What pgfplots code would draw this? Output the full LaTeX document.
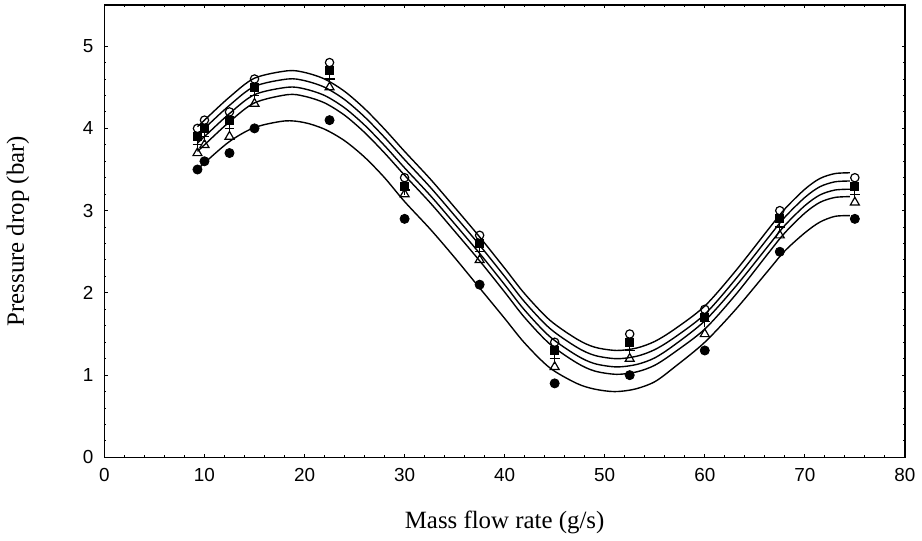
\documentclass[border=0pt]{standalone}
\usepackage{fontspec}
\setmainfont{Liberation Serif}
\newfontfamily\arial{Liberation Sans}
\usepackage{pgfplots}
\pgfplotsset{compat=1.18}

\pgfplotsset{curve/.style={no marks, smooth, black, line width=0.7pt}}

\begin{document}
\begin{tikzpicture}
\path (-52.5pt,-40pt) rectangle (408.5pt,230pt);
\begin{axis}[
 at={(0,0)}, anchor=south west,
 scale only axis, width=402.5pt, height=227.5pt,
 xmin=0, xmax=80, ymin=0, ymax=5.5,
 xtick={0,10,...,80}, ytick={0,1,...,5},
 minor x tick num=4, minor y tick num=4,
 tick align=inside, major tick length=1.6pt, minor tick length=1pt,
 axis line style={line width=0.75pt},
 every tick/.style={black, line width=0.5pt},
 ticklabel style={font=\arial\fontsize{9.5}{10}\selectfont},
 /pgf/number format/assume math mode=true,
 xticklabel style={yshift=-2pt},
 yticklabel style={xshift=-2pt},
 xlabel={Mass flow rate (g/s)}, ylabel={Pressure drop (bar)},
 label style={font=\fontsize{12.5}{14}\selectfont},
 xlabel style={at={(axis description cs:0.5,-0.1429)}, anchor=center},
 ylabel style={at={(axis description cs:-0.1081,0.5)}, anchor=center},
 clip=false,
]
% fitted curves
\addplot[curve] coordinates {(9.3,4.02)(10,4.10)(12.5,4.38)(15,4.61)(18.3,4.70)(20,4.68)(22,4.60)(24,4.45)(26,4.24)(28,3.99)(30,3.72)(32.6,3.38)(35,3.04)(37.5,2.68)(40,2.30)(42,1.99)(44.5,1.67)(47.2,1.44)(49,1.34)(51.2,1.30)(53.2,1.33)(55,1.41)(57,1.56)(60,1.84)(63.1,2.27)(66.4,2.78)(68,3.02)(70,3.26)(71.5,3.39)(73,3.45)(74.5,3.46)};
\addplot[curve] coordinates {(9.3,3.92)(10,4.00)(12.5,4.28)(15,4.51)(18.3,4.60)(20,4.58)(22,4.50)(24,4.35)(26,4.14)(28,3.89)(30,3.62)(32.6,3.28)(35,2.94)(37.5,2.58)(40,2.20)(42,1.89)(44.5,1.57)(47.2,1.34)(49,1.24)(51.2,1.20)(53.2,1.23)(55,1.31)(57,1.46)(60,1.74)(63.1,2.17)(66.4,2.68)(68,2.92)(70,3.16)(71.5,3.29)(73,3.35)(74.5,3.36)};
\addplot[curve] coordinates {(9.3,3.82)(10,3.90)(12.5,4.18)(15,4.41)(18.3,4.50)(20,4.48)(22,4.40)(24,4.25)(26,4.04)(28,3.79)(30,3.52)(32.6,3.18)(35,2.84)(37.5,2.48)(40,2.10)(42,1.79)(44.5,1.47)(47.2,1.24)(49,1.14)(51.2,1.10)(53.2,1.13)(55,1.21)(57,1.37)(60,1.66)(63.1,2.08)(66.4,2.58)(68,2.82)(70,3.06)(71.5,3.19)(73,3.25)(74.5,3.26)};
\addplot[curve] coordinates {(9.3,3.72)(10,3.80)(12.5,4.08)(15,4.31)(18.3,4.41)(20,4.39)(22,4.31)(24,4.16)(26,3.95)(28,3.70)(30,3.43)(32.6,3.09)(35,2.75)(37.5,2.39)(40,2.01)(42,1.70)(44.5,1.38)(47.2,1.15)(49,1.05)(51.2,1.01)(53.2,1.04)(55,1.12)(57,1.28)(60,1.56)(63.1,1.98)(66.4,2.49)(68,2.73)(70,2.97)(71.5,3.10)(73,3.16)(74.5,3.17)};
\addplot[curve] coordinates {(9.3,3.50)(10,3.58)(12.5,3.84)(15,4.01)(18,4.09)(20,4.07)(22,3.99)(24,3.85)(26,3.65)(28,3.40)(30,3.11)(32.6,2.77)(35,2.43)(37.5,2.06)(40,1.69)(42,1.39)(44.5,1.09)(47.2,0.90)(49,0.83)(51,0.80)(53,0.83)(55,0.92)(57,1.10)(60,1.40)(63.1,1.80)(66.4,2.28)(68,2.51)(70,2.73)(71.5,2.86)(73,2.93)(74.5,2.94)};
% data
\addplot[only marks, mark=*, mark size=2.3pt, black] coordinates {(9.3,3.5)(10,3.6)(12.5,3.7)(15,4.0)(22.5,4.1)(30,2.9)(37.5,2.1)(45,0.9)(52.5,1.0)(60,1.3)(67.5,2.5)(75,2.9)};
\addplot[only marks, mark=triangle, mark size=2.6pt, black, line width=0.6pt, mark options={fill=white}] coordinates {(9.3,3.7)(10,3.8)(12.5,3.9)(15,4.3)(22.5,4.5)(30,3.2)(37.5,2.4)(45,1.1)(52.5,1.2)(60,1.5)(67.5,2.7)(75,3.1)};
\addplot[only marks, mark=+, mark size=2.5pt, black, line width=0.65pt] coordinates {(9.3,3.8)(10,3.9)(12.5,4.0)(15,4.4)(22.5,4.6)(30,3.25)(37.5,2.5)(45,1.2)(52.5,1.3)(60,1.65)(67.5,2.8)(75,3.2)};
\addplot[only marks, mark=square*, mark size=2pt, black] coordinates {(9.3,3.9)(10,4.0)(12.5,4.1)(15,4.5)(22.5,4.7)(30,3.3)(37.5,2.6)(45,1.3)(52.5,1.4)(60,1.7)(67.5,2.9)(75,3.3)};
\addplot[only marks, mark=o, mark size=2.1pt, black, line width=0.6pt, mark options={fill=white}] coordinates {(9.3,4.0)(10,4.1)(12.5,4.2)(15,4.6)(22.5,4.8)(30,3.4)(37.5,2.7)(45,1.4)(52.5,1.5)(60,1.8)(67.5,3.0)(75,3.4)};
\end{axis}
\end{tikzpicture}
\end{document}
